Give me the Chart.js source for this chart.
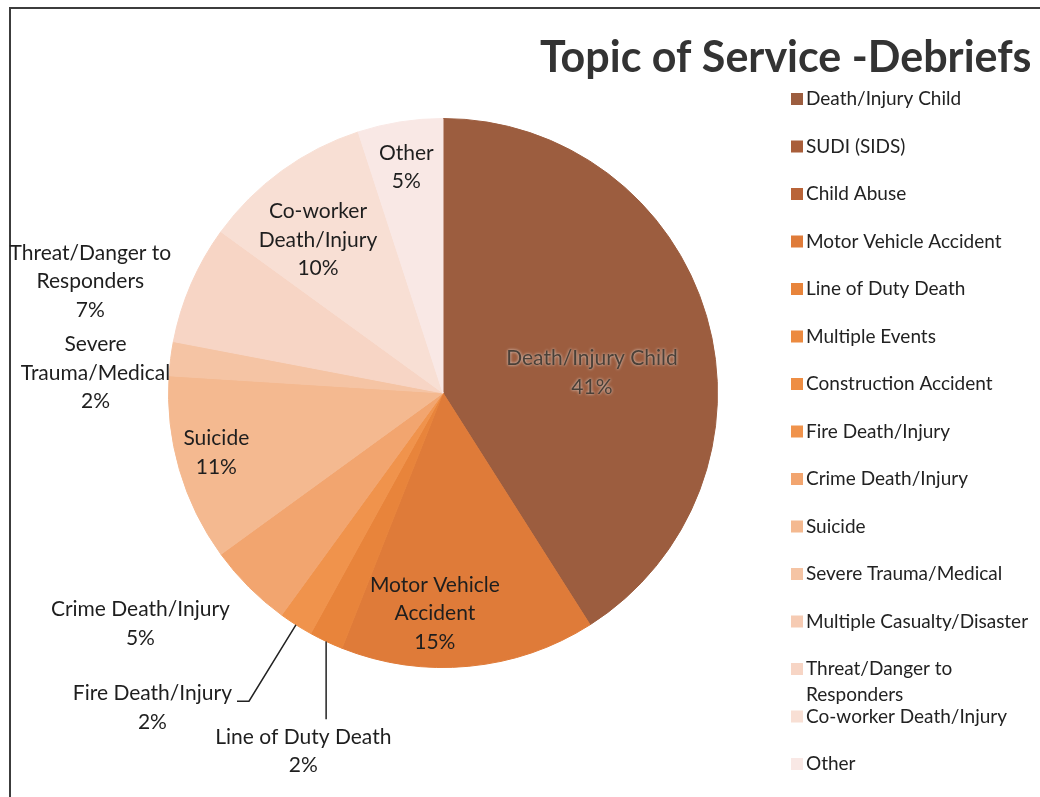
<!DOCTYPE html>
<html lang="en">
<head>
<meta charset="UTF-8">
<title>Topic of Service - Debriefs</title>
<script src="https://cdn.jsdelivr.net/npm/chart.js"></script>
<style>
  html, body { margin: 0; padding: 0; background: #fff; }
  #wrap { position: relative; width: 1040px; height: 797px; }
</style>
</head>
<body>
<div id="wrap"><canvas id="chartDebriefs" width="1040" height="797"></canvas></div>
<script>
  // topics, in legend order (pie runs clockwise from 12 o'clock)
  const topics = [
    'Death/Injury Child', 'SUDI (SIDS)', 'Child Abuse', 'Motor Vehicle Accident',
    'Line of Duty Death', 'Multiple Events', 'Construction Accident', 'Fire Death/Injury',
    'Crime Death/Injury', 'Suicide', 'Severe Trauma/Medical', 'Multiple Casualty/Disaster',
    'Threat/Danger to Responders', 'Co-worker Death/Injury', 'Other'
  ];
  // share of debriefs, percent
  const shares = [41, 0, 0, 15, 2, 0, 0, 2, 5, 11, 2, 0, 7, 10, 5];

  const sliceColors = [
    '#9c5d3f', '#a95e3a', '#b96438', '#df7b39', '#e8843b', '#ec8a40', '#ee8e44', '#f0934c',
    '#f2a56f', '#f4b990', '#f5c4a4', '#f6cbb3', '#f7d5c5', '#f8dfd4', '#f9e8e5'
  ];

  // where each slice label goes: k = fraction of radius along the mid angle,
  // dx/dy = nudge in px, w = wrap width, leader = connector style
  const labelLayout = {
    0:  { k: 0.565, dx: 0,   dy: 23,  w: 230 },
    3:  { k: 0.807, dx: -29, dy: 0,   w: 160 },
    4:  { k: 1.443, dx: 29,  dy: 0,   w: 260, leader: 'down' },
    7:  { k: 1.357, dx: -91, dy: 0,   w: 260, leader: 'elbow' },
    8:  { k: 1.188, dx: -72, dy: 0,   w: 260 },
    9:  { k: 0.86,  dx: 0,   dy: -6,  w: 120 },
    10: { k: 1.276, dx: 0,   dy: 24,  w: 160 },
    12: { k: 1.40,  dx: 0,   dy: 41,  w: 185 },
    13: { k: 0.688, dx: -14, dy: 0,   w: 145 },
    14: { k: 0.832, dx: -1,  dy: 0,   w: 100 }
  };

  const FONT = 'Lato, "Open Sans", sans-serif';

  function wrapWords(ctx, text, maxW) {
    const words = text.split(' ');
    const lines = [];
    let cur = '';
    words.forEach(w => {
      const test = cur ? cur + ' ' + w : w;
      if (cur && ctx.measureText(test).width > maxW) {
        lines.push(cur);
        cur = w;
      } else {
        cur = test;
      }
    });
    if (cur) lines.push(cur);
    return lines;
  }

  const decorations = {
    id: 'decorations',
    afterDraw(chart) {
      const ctx = chart.ctx;
      ctx.save();

      // frame
      ctx.strokeStyle = '#3c3c3c';
      ctx.lineWidth = 2;
      ctx.beginPath();
      ctx.moveTo(10, 820);
      ctx.lineTo(10, 8);
      ctx.lineTo(1060, 8);
      ctx.stroke();

      // title
      ctx.fillStyle = '#333';
      ctx.font = 'bold 43px ' + FONT;
      ctx.textAlign = 'left';
      ctx.textBaseline = 'alphabetic';
      ctx.fillText('Topic of Service -Debriefs', 540, 72);

      // legend
      ctx.font = '19px ' + FONT;
      ctx.textBaseline = 'middle';
      topics.forEach((t, i) => {
        const y = 99 + i * 47.5;
        ctx.fillStyle = sliceColors[i];
        ctx.fillRect(791, y - 6, 12, 12);
        ctx.fillStyle = '#222';
        wrapWords(ctx, t, 228).forEach((line, j) => {
          ctx.fillText(line, 806, y + j * 26);
        });
      });

      // slice labels
      const arcs = chart.getDatasetMeta(0).data;
      ctx.font = '21px ' + FONT;
      ctx.textAlign = 'center';
      const lh = 28.5;
      arcs.forEach((arc, i) => {
        const lay = labelLayout[i];
        if (!lay || !shares[i]) return;
        const p = arc.getProps(['x', 'y', 'startAngle', 'endAngle', 'outerRadius'], true);
        const mid = (p.startAngle + p.endAngle) / 2;
        const cx = p.x + Math.cos(mid) * p.outerRadius * lay.k + lay.dx;
        const cy = p.y + Math.sin(mid) * p.outerRadius * lay.k + lay.dy;
        const lines = wrapWords(ctx, topics[i], lay.w).concat([shares[i] + '%']);
        const top = cy - (lines.length - 1) * lh / 2;

        if (i === 0) {
          ctx.shadowColor = 'rgba(255,255,255,0.8)';
          ctx.shadowBlur = 3;
          ctx.fillStyle = '#4a4038';
        } else {
          ctx.shadowBlur = 0;
          ctx.fillStyle = '#1e1e1e';
        }
        lines.forEach((line, j) => ctx.fillText(line, cx, top + j * lh));
        ctx.shadowBlur = 0;

        if (lay.leader) {
          const ex = p.x + Math.cos(mid) * p.outerRadius;
          const ey = p.y + Math.sin(mid) * p.outerRadius;
          ctx.strokeStyle = '#222';
          ctx.lineWidth = 1.5;
          ctx.beginPath();
          ctx.moveTo(ex, ey);
          if (lay.leader === 'down') {
            ctx.lineTo(ex, top - 18);
          } else {
            const right = cx + ctx.measureText(lines[0]).width / 2;
            ctx.lineTo(right + 17, top + 8);
            ctx.lineTo(right + 5, top + 8);
          }
          ctx.stroke();
        }
      });

      ctx.restore();
    }
  };

  new Chart(document.getElementById('chartDebriefs'), {
    type: 'pie',
    data: {
      labels: topics,
      datasets: [{
        data: shares,
        backgroundColor: sliceColors,
        borderColor: sliceColors,
        borderWidth: 1
      }]
    },
    options: {
      responsive: false,
      animation: false,
      layout: { padding: { left: 168, right: 322, top: 118, bottom: 129 } },
      plugins: {
        legend: { display: false },
        tooltip: { enabled: false }
      }
    },
    plugins: [decorations]
  });
</script>
</body>
</html>
